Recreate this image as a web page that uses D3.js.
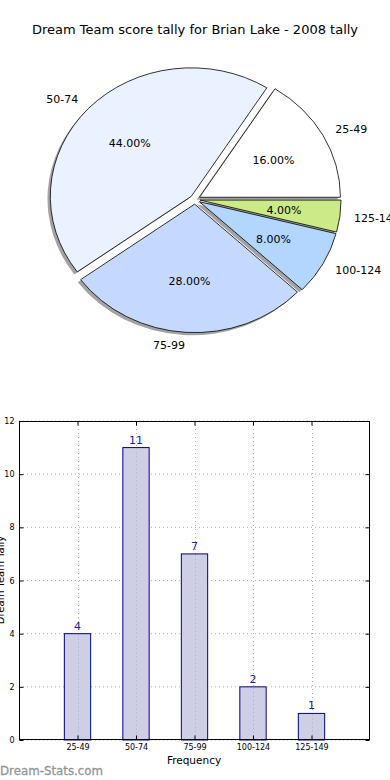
<!DOCTYPE html>
<html><head><meta charset="utf-8">
<script src="https://cdn.jsdelivr.net/npm/d3@7"></script>
<style>body{margin:0;background:#fff}svg{display:block;font-family:"DejaVu Sans",sans-serif}</style>
</head><body>
<svg id="c" width="390" height="780"></svg>
<script>
const categories = ["25-49","50-74","75-99","100-124","125-149"];
const counts = [4, 11, 7, 2, 1];
const sliceColors = ["#ffffff","#eaf1ff","#c5d9ff","#b3d6ff","#ccea88"];
const yTicks = [0,2,4,6,8,10,12];
const title = "Dream Team score tally for Brian Lake - 2008 tally";

const svg = d3.select("#c");
svg.append("rect").attr("width",390).attr("height",780).attr("fill","#fff");

svg.append("text").attr("x",195).attr("y",34).attr("text-anchor","middle")
  .attr("font-size",13).attr("fill","#000").text(title);

// ---------- Pie ----------
const cx = 195, cy = 199.5, rx = 141, ry = 128.5, k = ry/rx, explode = 0.036;
const total = d3.sum(counts);
const pie = d3.pie().sort(null).startAngle(Math.PI/2).endAngle(Math.PI/2 - 2*Math.PI);
const arcs = pie(counts);
const arc = d3.arc().innerRadius(0).outerRadius(rx);
const pg = svg.append("g");

arcs.forEach((d,i) => {
  const a = (d.startAngle + d.endAngle)/2;
  const dx = explode*rx*Math.sin(a), dy = -explode*rx*Math.cos(a);
  const ox = cx + dx, oy = cy + dy*k;
  pg.append("path").attr("d", arc(d))
    .attr("transform", `translate(${ox-2.8},${oy+2.6}) scale(1,${k})`)
    .attr("fill","#8c8c8c").attr("opacity",0.8);
});
arcs.forEach((d,i) => {
  const a = (d.startAngle + d.endAngle)/2;
  const dx = explode*rx*Math.sin(a), dy = -explode*rx*Math.cos(a);
  const ox = cx + dx, oy = cy + dy*k;
  pg.append("path").attr("d", arc(d))
    .attr("transform", `translate(${ox},${oy}) scale(1,${k})`)
    .attr("fill", sliceColors[i]).attr("stroke","#000").attr("stroke-width",0.8)
    .attr("vector-effect","non-scaling-stroke").attr("stroke-linejoin","round");
  const sx = Math.sin(a), sy = -Math.cos(a);
  pg.append("text")
    .attr("x", ox + 1.1*rx*sx).attr("y", oy + 1.1*ry*sy)
    .attr("dy","0.35em").attr("font-size",11)
    .attr("text-anchor", sx > 0 ? "start" : "end")
    .text(categories[i]);
  pg.append("text")
    .attr("x", ox + 0.6*rx*sx).attr("y", oy + 0.6*ry*sy)
    .attr("dy","0.35em").attr("font-size",11).attr("text-anchor","middle")
    .text((counts[i]/total*100).toFixed(2) + "%");
});

// ---------- Bar chart ----------
const L = 19, R = 370, T = 421, B = 740;
const x = d3.scaleLinear().domain([-1, categories.length]).range([L, R]);
const y = d3.scaleLinear().domain([0, 12]).range([B, T]);
const bw = 0.45;
const bg = svg.append("g");

bg.selectAll(".gy").data(yTicks).enter().append("line")
  .attr("x1",L).attr("x2",R).attr("y1",d=>y(d)).attr("y2",d=>y(d))
  .attr("stroke","#b0b0b0").attr("stroke-width",1).attr("stroke-dasharray","1,3");
bg.selectAll(".gx").data(categories).enter().append("line")
  .attr("x1",(d,i)=>Math.round(x(i))+0.5).attr("x2",(d,i)=>Math.round(x(i))+0.5)
  .attr("y1",T).attr("y2",B)
  .attr("stroke","#b0b0b0").attr("stroke-width",1).attr("stroke-dasharray","1,3");

bg.selectAll(".bar").data(counts).enter().append("rect")
  .attr("x",(d,i)=>x(i - bw/2)).attr("width", x(bw) - x(0))
  .attr("y",d=>y(d)).attr("height",d=>B - y(d))
  .attr("fill","#cbcbe3").attr("fill-opacity",0.95)
  .attr("stroke","#00008b").attr("stroke-width",1);

bg.selectAll(".gx2").data(categories).enter().append("line")
  .attr("x1",(d,i)=>Math.round(x(i))+0.5).attr("x2",(d,i)=>Math.round(x(i))+0.5)
  .attr("y1",(d,i)=>y(counts[i])+1).attr("y2",B)
  .attr("stroke","#b0b0c0").attr("stroke-width",1).attr("stroke-dasharray","1,3");

bg.selectAll(".vl").data(counts).enter().append("text")
  .attr("x",(d,i)=>x(i)).attr("y",d=>y(d)-4)
  .attr("text-anchor","middle").attr("font-size",11).attr("fill","#1a1aa6")
  .text(d=>d);

bg.append("rect").attr("x",L+0.5).attr("y",T+0.5).attr("width",R-L-1).attr("height",B-T-1)
  .attr("fill","none").attr("stroke","#000").attr("stroke-width",1);

const yAxis = d3.axisLeft(y).tickValues(yTicks).tickSize(-4).tickPadding(5).tickFormat(d3.format("d"));
const ya = bg.append("g").attr("transform",`translate(${L+0.5},0)`).call(yAxis);
ya.select(".domain").remove();
ya.selectAll("text").attr("font-size",8).attr("font-family","DejaVu Sans");
const yAxisR = d3.axisRight(y).tickValues(yTicks).tickSize(-4).tickFormat("");
const yar = bg.append("g").attr("transform",`translate(${R-0.5},0)`).call(yAxisR);
yar.select(".domain").remove();

const xb = d3.scaleLinear().domain(x.domain()).range(x.range());
const xAxis = d3.axisBottom(xb).tickValues(d3.range(categories.length)).tickSize(-4).tickPadding(5)
  .tickFormat(i=>categories[i]);
const xa = bg.append("g").attr("transform",`translate(0,${B-0.5})`).call(xAxis);
xa.select(".domain").remove();
xa.selectAll("text").attr("font-size",8).attr("font-family","DejaVu Sans");
const xAxisT = d3.axisTop(xb).tickValues(d3.range(categories.length)).tickSize(-4).tickFormat("");
const xat = bg.append("g").attr("transform",`translate(0,${T+0.5})`).call(xAxisT);
xat.select(".domain").remove();

svg.append("text").attr("x",194).attr("y",764).attr("text-anchor","middle")
  .attr("font-size",10.5).text("Frequency");
svg.append("text").attr("transform","translate(4,580) rotate(-90)")
  .attr("text-anchor","middle").attr("font-size",10).text("Dream Team Tally");

svg.append("text").attr("x",0).attr("y",775).attr("font-size",11.8)
  .attr("fill","#959595").attr("stroke","#959595").attr("stroke-width",0.3).text("Dream-Stats.com");
</script>
</body></html>
